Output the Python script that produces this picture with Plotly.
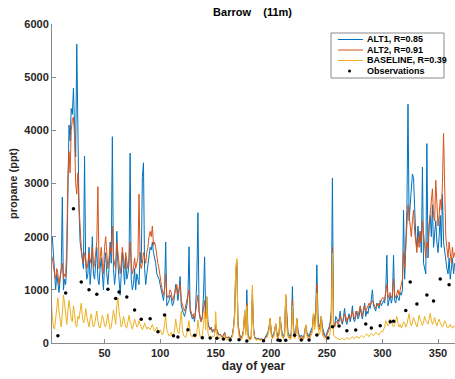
import plotly.graph_objects as go

# Day-of-year axis (daily model output)
days = list(range(1, 366))

# ALT1 model propane (ppt), one value per day
alt1 = [
    1600, 1950, 2000, 1700, 1200, 1000, 1300, 1100, 950, 1200,
    1400, 2745, 1000, 1200, 1100, 1500, 3000, 4100, 3800, 4410,
    4300, 4790, 4100, 3500, 5620, 3300, 2500, 1900, 1700, 1500,
    1400, 3515, 1500, 1200, 1300, 1800, 1100, 1400, 2000, 1300,
    1200, 1500, 1800, 1200, 1100, 1400, 1600, 1300, 1000, 1500,
    1700, 1300, 1100, 1400, 1900, 1500, 3880, 1400, 1100, 1300,
    2100, 1500, 1200, 900, 1300, 1700, 1400, 1100, 1600, 1200,
    1300, 1500, 3570, 1200, 1000, 1100, 1400, 1000, 1300, 1200,
    1100, 1700, 1500, 3130, 3390, 1400, 1100, 1300, 1500, 1700,
    1800, 1750, 1900, 1700, 1600, 1500, 1300, 1250, 1200, 1100,
    1000, 900, 800, 1000, 1900, 700, 750, 800, 900, 850,
    700, 750, 900, 1100, 1000, 800, 1000, 1250, 700, 600,
    550, 500, 600, 700, 900, 1810, 600, 500, 450, 500,
    400, 700, 1200, 2450, 600, 450, 400, 500, 900, 1620,
    500, 870, 400, 300, 250, 300, 200, 250, 200, 300,
    250, 180, 150, 160, 130, 110, 140, 200, 120, 100,
    100, 120, 90, 110, 160, 300, 550, 1300, 1500, 400,
    200, 120, 100, 150, 250, 500, 250, 1000, 200, 100,
    80, 120, 900, 300, 120, 100, 80, 90, 80, 70,
    80, 70, 60, 90, 120, 150, 200, 300, 450, 200,
    120, 150, 250, 350, 200, 120, 200, 480, 300, 150,
    120, 200, 850, 400, 200, 150, 120, 200, 1060, 300,
    150, 200, 450, 250, 150, 120, 150, 120, 100, 200,
    330, 200, 150, 120, 200, 250, 300, 550, 400, 600,
    1470, 500, 300, 350, 500, 300, 200, 150, 120, 200,
    250, 300, 400, 600, 3100, 400, 300, 500, 450, 400,
    450, 600, 400, 350, 500, 650, 400, 350, 450, 550,
    400, 500, 700, 450, 400, 550, 600, 450, 500, 650,
    550, 450, 600, 750, 500, 600, 550, 700, 650, 800,
    1000, 700, 650, 600, 750, 700, 650, 800, 700, 750,
    800, 750, 1000, 1650, 700, 800, 900, 750, 850, 1650,
    800, 750, 900, 850, 800, 950, 900, 1000, 2500, 1200,
    2000, 2500, 4490, 2300, 2600, 2900, 3180, 3100, 2400, 2000,
    1800, 2200, 1900, 2100, 1700, 3310, 1500, 1400, 1300, 3750,
    1600, 2200, 2400, 2000, 2600, 1800, 2100, 2300, 1900, 1700,
    2000, 2400, 1800, 2800, 1900, 1700, 1500, 1400, 1300, 1600,
    1200, 1400, 1600, 1300, 1500,
]

# ALT2 model propane (ppt)
alt2 = [
    1500, 1650, 1600, 1400, 1300, 1200, 1400, 1300, 1100, 1250,
    1350, 1500, 1200, 1300, 1250, 1800, 3100, 3600, 3200, 4000,
    4190, 4250, 3900, 3000, 2800, 3200, 2600, 2000, 1800, 1600,
    1500, 1700, 1600, 1400, 1500, 1700, 1500, 1600, 1800, 1400,
    1500, 1700, 1900, 2940, 1400, 1600, 1800, 1500, 1300, 1800,
    2000, 1700, 1400, 1600, 1800, 1700, 2200, 1600, 1500, 1400,
    1900, 1700, 1500, 1300, 1500, 1800, 1600, 1400, 1700, 1500,
    1400, 1600, 1900, 1500, 1300, 1400, 1600, 1400, 1500, 1600,
    2800, 1500, 1400, 1500, 1700, 1600, 1500, 1700, 1800, 2000,
    2100, 2000, 2200, 1840, 1900, 1800, 1600, 1500, 1400, 1200,
    1100, 1000, 900, 1000, 1300, 900, 850, 900, 1000, 950,
    800, 850, 950, 1000, 1100, 900, 1050, 1100, 800, 700,
    650, 600, 700, 800, 850, 1000, 650, 550, 500, 550,
    450, 600, 800, 900, 600, 450, 400, 500, 700, 800,
    450, 600, 350, 300, 250, 280, 220, 250, 200, 350,
    220, 160, 150, 170, 140, 120, 150, 190, 110, 100,
    100, 110, 80, 100, 150, 280, 520, 1350, 1550, 350,
    180, 110, 90, 130, 230, 600, 200, 750, 150, 90,
    70, 100, 1000, 250, 100, 80, 70, 80, 70, 60,
    70, 60, 50, 80, 100, 130, 180, 280, 460, 180,
    100, 130, 220, 360, 150, 100, 170, 490, 250, 120,
    100, 170, 900, 350, 150, 110, 90, 150, 800, 250,
    120, 170, 460, 200, 120, 90, 120, 100, 80, 170,
    340, 160, 120, 100, 150, 200, 250, 560, 300, 500,
    1100, 400, 250, 300, 500, 250, 150, 120, 100, 150,
    200, 250, 350, 500, 1800, 350, 300, 400, 400, 350,
    400, 500, 450, 380, 450, 550, 500, 400, 480, 500,
    450, 550, 600, 500, 450, 600, 550, 500, 600, 700,
    600, 500, 650, 700, 600, 650, 700, 750, 700, 750,
    800, 750, 700, 650, 700, 750, 700, 750, 800, 850,
    850, 800, 950, 1100, 850, 900, 950, 850, 900, 1200,
    900, 850, 950, 1000, 900, 1000, 1100, 1200, 1700, 1400,
    1800, 2200, 2600, 2400, 2200, 2000, 2300, 2500, 2100, 1900,
    1700, 2000, 1800, 2100, 1900, 2300, 2000, 1700, 1600, 1900,
    1800, 2200, 2500, 2700, 2900, 2400, 2300, 3060, 2600, 2200,
    2400, 2700, 2500, 3000, 3940, 2600, 2000, 1800, 1600, 1900,
    1700, 1500, 1800, 1600, 1700,
]

# BASELINE model propane (ppt)
baseline = [
    880, 820, 500, 300, 260, 450, 700, 850, 600, 380,
    300, 550, 900, 750, 500, 350, 600, 800, 650, 450,
    400, 700, 550, 350, 300, 500, 450, 600, 750, 500,
    380, 420, 650, 500, 350, 300, 450, 550, 400, 300,
    350, 500, 600, 420, 300, 280, 380, 520, 450, 330,
    300, 420, 550, 380, 260, 300, 480, 620, 500, 350,
    700, 850, 600, 400, 300, 350, 500, 420, 300, 280,
    380, 520, 400, 300, 260, 350, 450, 380, 300, 330,
    420, 350, 280, 250, 300, 380, 320, 260, 300, 280,
    250, 300, 350, 280, 220, 260, 300, 230, 200, 250,
    180, 150, 200, 350, 520, 250, 160, 130, 150, 200,
    120, 140, 250, 450, 300, 200, 180, 350, 600, 250,
    150, 120, 100, 180, 300, 420, 200, 130, 110, 150,
    120, 100, 200, 430, 250, 120, 100, 150, 350, 600,
    250, 870, 200, 120, 100, 90, 130, 110, 150, 590,
    150, 100, 80, 120, 90, 70, 100, 160, 80, 60,
    70, 90, 60, 80, 120, 250, 500, 1400, 1590, 300,
    120, 80, 60, 100, 200, 620, 150, 700, 100, 60,
    50, 80, 1090, 200, 80, 60, 50, 70, 60, 50,
    60, 50, 40, 60, 80, 100, 150, 250, 465, 150,
    80, 100, 200, 370, 120, 80, 150, 495, 200, 100,
    80, 150, 920, 300, 120, 80, 60, 100, 700, 200,
    80, 150, 465, 150, 80, 60, 100, 70, 60, 150,
    340, 120, 80, 60, 100, 150, 200, 560, 250, 400,
    940, 300, 150, 200, 500, 150, 100, 80, 60, 80,
    100, 120, 200, 400, 1690, 150, 120, 100, 90, 80,
    70, 60, 80, 90, 70, 60, 80, 100, 90, 70,
    80, 100, 120, 90, 80, 110, 130, 100, 90, 120,
    140, 120, 100, 130, 150, 170, 140, 120, 160, 180,
    150, 140, 170, 200, 180, 160, 150, 190, 220, 200,
    250, 300, 420, 380, 320, 350, 450, 400, 330, 300,
    350, 420, 500, 380, 300, 350, 280, 320, 400, 380,
    300, 350, 450, 550, 400, 320, 380, 480, 420, 350,
    300, 400, 520, 450, 380, 330, 400, 500, 420, 380,
    360, 450, 560, 430, 350, 400, 480, 380, 320, 400,
    450, 380, 330, 300, 350, 420, 380, 300, 280, 330,
    350, 300, 280, 320, 300,
]

# Flask observations: sampling day and propane (ppt)
obs_day = [8, 15, 22, 29, 36, 43, 53, 60, 63, 70, 77, 83, 91, 98, 104,
           112, 116, 125, 131, 138, 145, 151, 157, 163, 171, 178, 193,
           206, 208, 213, 221, 227, 234, 241, 251, 255, 261, 268, 276,
           285, 290, 298, 307, 310, 321, 325, 331, 340, 346, 352, 360]
obs_val = [137, 940, 2525, 1145, 1000, 915, 1012, 835, 960, 865, 620, 447,
           457, 212, 526, 137, 113, 250, 145, 100, 94, 88, 75, 56, 62, 38,
           43, 56, 45, 50, 145, 56, 56, 150, 94, 306, 320, 231, 244, 357,
           282, 325, 400, 408, 610, 1147, 735, 902, 792, 1203, 1096]

labels = ["ALT1, R=0.85", "ALT2, R=0.91", "BASELINE, R=0.39", "Observations"]
colors = ["#0072BD", "#D95319", "#EDB120"]

assert len(alt1) == len(alt2) == len(baseline) == len(days)

W, H = 455, 379
ML, MR, MT, MB = 52, 0, 24, 36
PW, PH = W - ML - MR, H - MT - MB


def px_x(px):
    """Pixel column -> paper x fraction of the plot area."""
    return (px - ML) / PW


def px_y(py):
    """Pixel row (from top) -> paper y fraction of the plot area."""
    return (H - MB - py) / PH


fig = go.Figure()
for series, name, col in zip([alt1, alt2, baseline], labels[:3], colors):
    fig.add_trace(go.Scatter(x=days, y=series, mode="lines", name=name,
                             line=dict(color=col, width=1), showlegend=False))
fig.add_trace(go.Scatter(x=obs_day, y=obs_val, mode="markers", name=labels[3],
                         marker=dict(color="black", size=3.5), showlegend=False))

font = "Liberation Sans, Arial, sans-serif"
axis_common = dict(showline=True, linecolor="#8a8a8a", linewidth=1,
                   ticks="inside", ticklen=4, tickcolor="#8a8a8a",
                   showgrid=False, zeroline=False, automargin=False,
                   tickfont=dict(family=font, size=11, color="#262626", weight="bold"))

# Compact boxed legend in the upper right of the axes
shapes = [dict(type="rect", xref="paper", yref="paper",
               x0=px_x(331), x1=px_x(444), y0=px_y(78), y1=px_y(33),
               line=dict(color="#8a8a8a", width=1), fillcolor="white",
               layer="above")]
annotations = []
rows = [39.5, 50, 60.5, 71]
for i, (lab, py) in enumerate(zip(labels, rows)):
    if i < 3:
        shapes.append(dict(type="line", xref="paper", yref="paper",
                           x0=px_x(338), x1=px_x(363), y0=px_y(py), y1=px_y(py),
                           line=dict(color=colors[i], width=1), layer="above"))
    else:
        shapes.append(dict(type="circle", xref="paper", yref="paper",
                           xsizemode="pixel", ysizemode="pixel",
                           xanchor=px_x(349.5), yanchor=px_y(py),
                           x0=-1.5, x1=1.5, y0=-1.5, y1=1.5,
                           fillcolor="black", line=dict(width=0), layer="above"))
    annotations.append(dict(text=lab, xref="paper", yref="paper",
                            x=px_x(365.5), y=px_y(py), xanchor="left",
                            yanchor="middle", showarrow=False, borderpad=0,
                            font=dict(family=font, size=9, color="black",
                                      weight="bold")))

fig.update_layout(
    width=W, height=H,
    margin=dict(l=ML, r=MR, t=MT, b=MB),
    paper_bgcolor="white", plot_bgcolor="white",
    title=dict(text="Barrow    (11m)", x=0.555, xanchor="center",
               y=1 - 12 / H, yanchor="middle",
               font=dict(family=font, size=11, color="black", weight="bold")),
    xaxis=dict(range=[2.7, 365.3], tickvals=[50, 100, 150, 200, 250, 300, 350],
               title=dict(text="day of year", standoff=2,
                          font=dict(family=font, size=12, color="#262626", weight="bold")),
               **axis_common),
    yaxis=dict(range=[0, 6000], tickvals=[0, 1000, 2000, 3000, 4000, 5000, 6000],
               title=dict(text="propane (ppt)", standoff=4,
                          font=dict(family=font, size=11, color="#262626", weight="bold")),
               **axis_common),
    shapes=shapes,
    annotations=annotations,
    showlegend=False,
)

fig.write_html("out.html")
